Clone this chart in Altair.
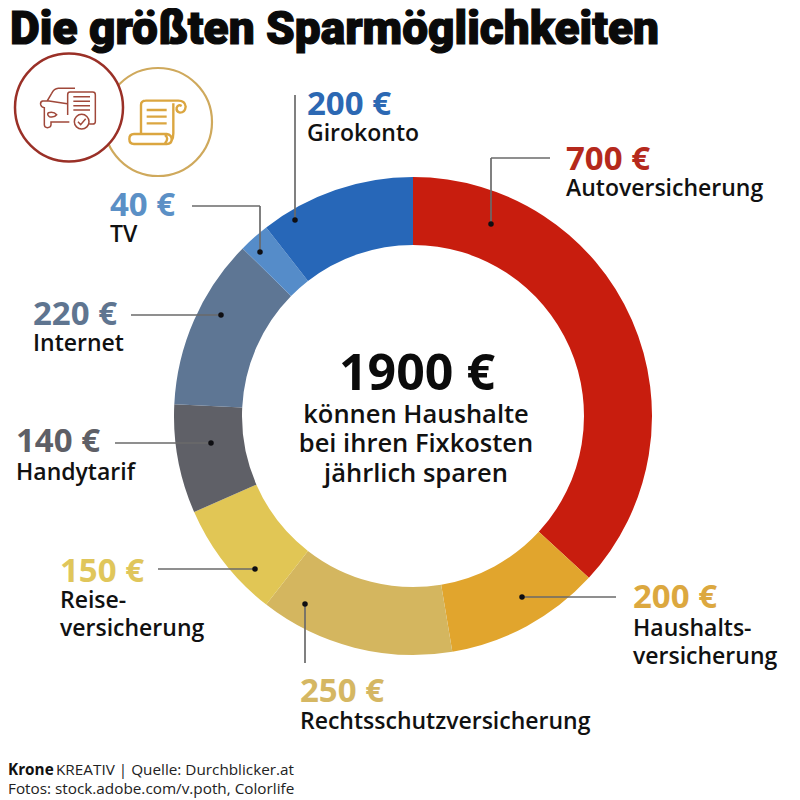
import altair as alt
import pandas as pd

OX, OY = 8, 8  # page margin
CX, CY = 413 - OX, 416 - OY
FONT = "Open Sans"

names = ["Autoversicherung", "Haushaltsversicherung", "Rechtsschutzversicherung", "Reiseversicherung",
         "Handytarif", "Internet", "TV", "Girokonto"]
values = [700, 200, 250, 150, 140, 220, 40, 200]
slice_colors = ["#C81D0E", "#E1A52D", "#D4B65F", "#E1C655", "#5F6067", "#5E7694", "#558CC9", "#2767B8"]

val_text = ["700 €", "200 €", "250 €", "150 €", "140 €", "220 €", "40 €", "200 €"]
val_x = [566, 633, 300, 60, 16, 33, 110, 307]
val_y = [170, 608, 702, 582, 452, 325, 216, 115]
val_colors = ["#B5291C", "#DCA83F", "#D5B763", "#E0C65B", "#5E5F66", "#5F7590", "#5B90C6", "#2C68B3"]

sub_text = ["Autoversicherung", "Haushalts-", "versicherung", "Rechtsschutzversicherung", "Reise-", "versicherung",
            "Handytarif", "Internet", "TV", "Girokonto"]
sub_x = [566, 633, 633, 300, 60, 60, 16, 33, 110, 307]
sub_y = [196, 636, 664, 729, 608, 636, 480, 351, 242, 141]

rule_x1 = [550, 491, 522, 305, 158, 115, 131, 192, 260, 295]
rule_x2 = [491, 491, 616, 305, 255, 211, 221, 260, 260, 295]
rule_y1 = [158, 158, 597, 604, 569, 443, 315, 206, 206, 95]
rule_y2 = [158, 224, 597, 663, 569, 443, 315, 206, 252, 220]

dot_x = [491, 522, 305, 255, 211, 221, 260, 295]
dot_y = [224, 597, 604, 569, 443, 315, 252, 220]

center_text = ["können Haushalte", "bei ihren Fixkosten", "jährlich sparen"]
center_y = [423, 452, 482]

title_text = "Die größten Sparmöglichkeiten"
foot_bold = "Krone"
foot_1 = "KREATIV | Quelle: Durchblicker.at"
foot_2 = "Fotos: stock.adobe.com/v.poth, Colorlife"

CAR = ("M135 55 L85 55 Q72 56 65 70 L52 92 L38 93 Q30 95 32 104 Q34 112 43 113 L43 165 Q44 173 52 173 "
       "Q62 173 63 165 L63 156 L118 156 M52 92 L112 101 M55 128 Q72 124 80 134 Q72 144 58 140 Q50 134 55 128 Z "
       "M120 66 L188 66 Q196 66 196 74 L196 155 Q196 162 188 162 L178 162 M113 135 L113 74 Q113 66 120 66 "
       "M130 80 L180 80 M130 94 L180 94 M130 107 L180 107 M130 120 L180 120 "
       "M177 155 A22 22 0 1 1 133 155 A22 22 0 1 1 177 155 Z M144 155 L152 164 L167 146")
SCROLL = ("M346 92 L445 92 Q465 92 467 110 Q465 128 450 128 Q438 125 440 113 Q445 102 455 108 "
          "M348 92 Q333 92 333 105 L333 190 M430 100 L430 190 Q430 205 425 212 "
          "M350 120 L410 120 M350 140 L410 140 M350 160 L410 160 "
          "M312 192 L410 192 Q425 195 425 207 Q425 222 410 222 L312 222 Q298 222 298 207 Q298 192 312 192 Z "
          "M405 195 Q418 205 405 220")

df = pd.DataFrame({"name": names, "value": values, "idx": range(len(names))})
vals = pd.DataFrame({"t": val_text, "x": [v - OX for v in val_x], "y": [v - OY for v in val_y], "c": val_colors})
subs = pd.DataFrame({"t": sub_text, "x": [v - OX for v in sub_x], "y": [v - OY for v in sub_y]})
rules = pd.DataFrame({"x": [v - OX for v in rule_x1], "x2": [v - OX for v in rule_x2],
                      "y": [v - OY for v in rule_y1], "y2": [v - OY for v in rule_y2]})
dots = pd.DataFrame({"x": [v - OX for v in dot_x], "y": [v - OY for v in dot_y]})
cent = pd.DataFrame({"t": center_text, "y": [v - OY for v in center_y]})
one = pd.DataFrame({"t": ["a"]})

X = alt.X("x:Q", scale=None, axis=None)
Y = alt.Y("y:Q", scale=None, axis=None)


def label(text, x, y, **kw):
    return alt.Chart(pd.DataFrame({"t": [text]})).mark_text(
        align=kw.pop("align", "left"), baseline="alphabetic", **kw
    ).encode(x=alt.value(x - OX), y=alt.value(y - OY), text="t:N")


arc = alt.Chart(df).mark_arc(innerRadius=171, outerRadius=239).encode(
    theta=alt.Theta("value:Q", stack=True),
    order=alt.Order("idx:Q"),
    color=alt.Color("name:N", scale=alt.Scale(domain=names, range=slice_colors), legend=None),
    x=alt.value(CX), y=alt.value(CY),
)
rule = alt.Chart(rules).mark_rule(color="#6A6A6A", strokeWidth=1.7).encode(x=X, y=Y, x2="x2:Q", y2="y2:Q")
dot = alt.Chart(dots).mark_circle(color="#0E0E12", size=30, opacity=1).encode(x=X, y=Y)
val_layer = alt.Chart(vals).mark_text(font=FONT, fontWeight=700, fontSize=33, align="left", baseline="alphabetic").encode(
    x=X, y=Y, text="t:N", color=alt.Color("c:N", scale=None))
sub_layer = alt.Chart(subs).mark_text(font=FONT, fontWeight=600, fontSize=23, align="left", baseline="alphabetic",
                                      color="#111111").encode(x=X, y=Y, text="t:N")
big = label("1900 €", 417, 390, font=FONT, fontWeight=700, fontSize=50, align="center", color="#0B0B0B")
cent_layer = alt.Chart(cent).mark_text(font=FONT, fontWeight=600, fontSize=25.5, align="center", baseline="alphabetic",
                                       color="#111111").encode(x=alt.value(416 - OX), y=Y, text="t:N")
title = label(title_text, 10, 44, font="Roboto", fontWeight=900, fontSize=46, color="#0A0A0A",
              stroke="#0A0A0A", strokeWidth=1.2)
foot1b = label(foot_bold, 8, 775, font=FONT, fontWeight=700, fontSize=15.3, color="#111111")
foot1 = label(foot_1, 56, 775, font=FONT, fontSize=15.3, color="#222222")
foot2 = label(foot_2, 8, 794, font=FONT, fontSize=15.3, color="#222222")

ring_tan = alt.Chart(one).mark_point(shape="circle", size=54 * 54 * 4, filled=False,
                                     stroke="#CFA95C", strokeWidth=2.2, opacity=1).encode(
    x=alt.value(158 - OX), y=alt.value(122 - OY))
ring_red = alt.Chart(one).mark_point(shape="circle", size=54 * 54 * 4, filled=True, fill="#FFFFFF",
                                     stroke="#9A3027", strokeWidth=2.5, opacity=1).encode(
    x=alt.value(69 - OX), y=alt.value(107.5 - OY))
icon_car = alt.Chart(one).mark_point(shape=CAR, size=4 / 9, filled=False, stroke="#A0483A",
                                     strokeWidth=1.5, opacity=1).encode(
    x=alt.value(30 - OX), y=alt.value(70 - OY))
icon_scroll = alt.Chart(one).mark_point(shape=SCROLL, size=4 / 9, filled=False, stroke="#DBA640",
                                        strokeWidth=2.4, opacity=1).encode(
    x=alt.value(30 - OX), y=alt.value(70 - OY))

chart = alt.layer(
    arc, rule, dot, val_layer, sub_layer, big, cent_layer, title, foot1b, foot1, foot2,
    ring_tan, ring_red, icon_car, icon_scroll,
).properties(width=784, height=792, padding=0, background="#FFFFFF", autosize=alt.AutoSizeParams(type="none")
).configure_view(stroke=None)

chart.save("out.html", embed_options={"renderer": "svg", "actions": False})
